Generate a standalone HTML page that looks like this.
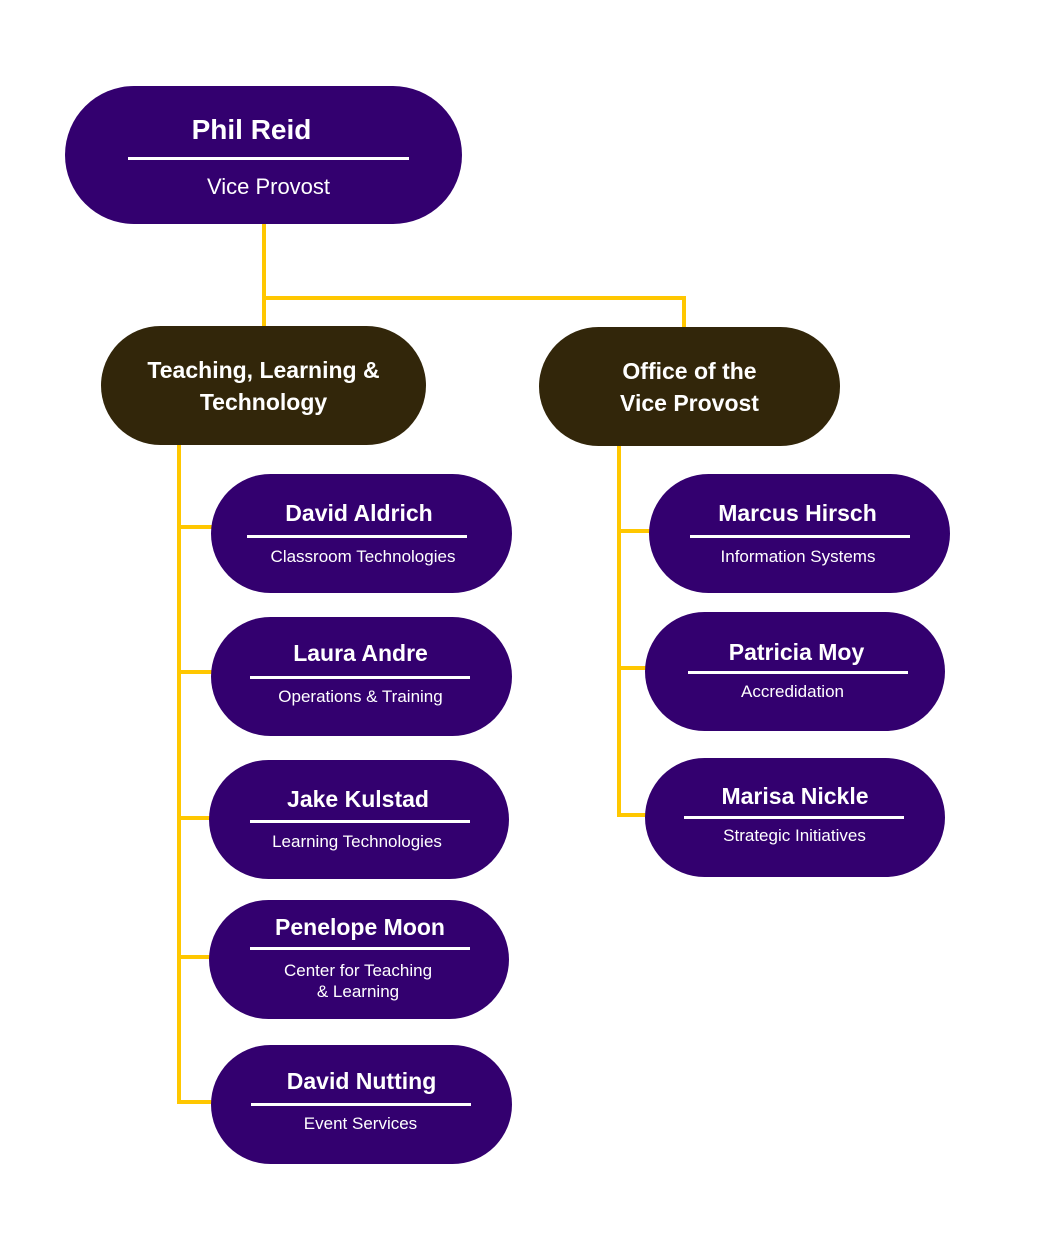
<!DOCTYPE html>
<html><head><meta charset="utf-8"><style>
body{margin:0;width:1059px;height:1250px;background:#fff;position:relative;overflow:hidden;font-family:"Liberation Sans",sans-serif;}
.n{position:absolute;background:#33006f;border-radius:60px;color:#fff;}
.d{position:absolute;background:#32260a;border-radius:60px;color:#fff;font-weight:bold;font-size:23px;line-height:32px;text-align:center;display:flex;align-items:center;justify-content:center;}
.t{position:absolute;left:0;right:0;text-align:center;white-space:nowrap;}
.nm{font-weight:bold;font-size:23px;}
.sb{font-size:17px;line-height:21px;}
.ln{position:absolute;height:3px;background:#fff;}
.g{position:absolute;background:#ffc700;}
</style></head><body>
<div class="g" style="left:262px;top:222px;width:4px;height:106px"></div>
<div class="g" style="left:264px;top:296px;width:422px;height:4px"></div>
<div class="g" style="left:682px;top:296px;width:4px;height:32px"></div>
<div class="g" style="left:177px;top:444px;width:4px;height:660px"></div>
<div class="g" style="left:177px;top:525px;width:36px;height:4px"></div>
<div class="g" style="left:177px;top:670px;width:36px;height:4px"></div>
<div class="g" style="left:177px;top:816px;width:34px;height:4px"></div>
<div class="g" style="left:177px;top:955px;width:34px;height:4px"></div>
<div class="g" style="left:177px;top:1100px;width:36px;height:4px"></div>
<div class="g" style="left:617px;top:445px;width:4px;height:372px"></div>
<div class="g" style="left:617px;top:529px;width:34px;height:4px"></div>
<div class="g" style="left:617px;top:666px;width:30px;height:4px"></div>
<div class="g" style="left:617px;top:813px;width:30px;height:4px"></div>

<div class="n" style="left:65px;top:86px;width:397px;height:138px;border-radius:69px">
<div class="t nm" style="top:28px;font-size:28px;left:-24px">Phil Reid</div>
<div class="ln" style="left:63px;top:71px;width:281px"></div>
<div class="t" style="top:88px;font-size:22px;left:10px;font-weight:300">Vice Provost</div></div>

<div class="d" style="left:101px;top:326px;width:325px;height:119px">Teaching, Learning &amp;<br>Technology</div>
<div class="d" style="left:539px;top:327px;width:301px;height:119px">Office of the<br>Vice Provost</div>

<div class="n" style="left:211px;top:474px;width:301px;height:119px">
<div class="t nm" style="top:26px;left:-5px">David Aldrich</div><div class="ln" style="left:36px;top:61px;width:220px"></div>
<div class="t sb" style="top:72px;left:3px">Classroom Technologies</div></div>

<div class="n" style="left:211px;top:617px;width:301px;height:119px">
<div class="t nm" style="top:23px;left:-2px">Laura Andre</div><div class="ln" style="left:39px;top:59px;width:220px"></div>
<div class="t sb" style="top:69px;left:-2px">Operations &amp; Training</div></div>

<div class="n" style="left:209px;top:760px;width:300px;height:119px">
<div class="t nm" style="top:26px;left:-2px">Jake Kulstad</div><div class="ln" style="left:41px;top:60px;width:220px"></div>
<div class="t sb" style="top:71px;left:-4px">Learning Technologies</div></div>

<div class="n" style="left:209px;top:900px;width:300px;height:119px">
<div class="t nm" style="top:14px;left:2px">Penelope Moon</div><div class="ln" style="left:41px;top:47px;width:220px"></div>
<div class="t sb" style="top:60px;left:-2px">Center for Teaching<br>&amp; Learning</div></div>

<div class="n" style="left:211px;top:1045px;width:301px;height:119px">
<div class="t nm" style="top:23px;left:0">David Nutting</div><div class="ln" style="left:40px;top:58px;width:220px"></div>
<div class="t sb" style="top:68px;left:-2px">Event Services</div></div>

<div class="n" style="left:649px;top:474px;width:301px;height:119px">
<div class="t nm" style="top:26px;left:-4px">Marcus Hirsch</div><div class="ln" style="left:41px;top:61px;width:220px"></div>
<div class="t sb" style="top:72px;left:-3px">Information Systems</div></div>

<div class="n" style="left:645px;top:612px;width:300px;height:119px">
<div class="t nm" style="top:27px;left:3px">Patricia Moy</div><div class="ln" style="left:43px;top:59px;width:220px"></div>
<div class="t sb" style="top:69px;left:-5px">Accredidation</div></div>

<div class="n" style="left:645px;top:758px;width:300px;height:119px">
<div class="t nm" style="top:25px;left:0">Marisa Nickle</div><div class="ln" style="left:39px;top:58px;width:220px"></div>
<div class="t sb" style="top:67px;left:-1px">Strategic Initiatives</div></div>
</body></html>
